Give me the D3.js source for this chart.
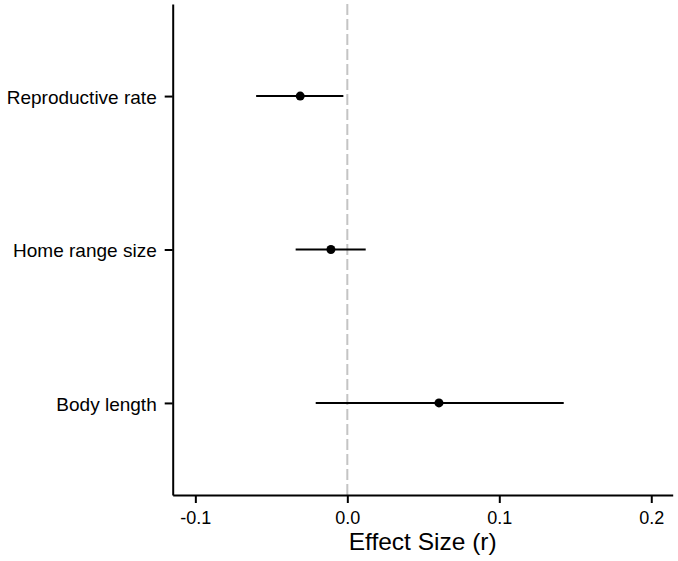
<!DOCTYPE html>
<html><head><meta charset="utf-8">
<script src="https://cdn.jsdelivr.net/npm/d3@7"></script>
<style>body{margin:0;background:#fff}svg{display:block}text{font-family:Arial,"Liberation Sans",sans-serif;fill:#000}</style>
</head><body>
<script>
const categories = ["Reproductive rate", "Home range size", "Body length"];
const estimates = [-0.031, -0.0108, 0.0603];
const lowerCI = [-0.0600, -0.0340, -0.0208];
const upperCI = [-0.0026, 0.0121, 0.1424];
const xTicks = [-0.1, 0.0, 0.1, 0.2];
const xTickLabels = ["-0.1", "0.0", "0.1", "0.2"];
const xTitle = "Effect Size (r)";

const W = 678, H = 561;
const m = {left: 172.7, right: 5.3, top: 4, bottom: 66};
const svg = d3.select("body").append("svg").attr("width", W).attr("height", H);
const x = d3.scaleLinear().domain([-0.1149, 0.2141]).range([m.left, W - m.right]);
const y = d3.scalePoint().domain(categories).range([m.top, H - m.bottom]).padding(0.6);

// zero reference line
svg.append("line").attr("x1", x(0)).attr("x2", x(0))
  .attr("y1", m.top).attr("y2", H - m.bottom)
  .attr("stroke", "#c4c4c4").attr("stroke-width", 2).attr("stroke-dasharray", "11,4");

// x axis
const xa = svg.append("g").attr("transform", `translate(0,${H - m.bottom})`)
  .call(d3.axisBottom(x).tickValues(xTicks).tickFormat((d, i) => xTickLabels[i]).tickSizeInner(8).tickSizeOuter(0).tickPadding(8.7));
xa.select(".domain").attr("stroke", "#000").attr("stroke-width", 2);
xa.selectAll(".tick line").attr("stroke", "#000").attr("stroke-width", 2);
xa.selectAll("text").attr("font-size", 18).attr("font-family", "Arial, 'Liberation Sans', sans-serif");

// y axis
const ya = svg.append("g").attr("transform", `translate(${m.left},0)`)
  .call(d3.axisLeft(y).tickSizeInner(8).tickSizeOuter(0).tickPadding(8));
ya.select(".domain").attr("stroke", "#000").attr("stroke-width", 2);
ya.selectAll(".tick line").attr("stroke", "#000").attr("stroke-width", 2);
ya.selectAll("text").attr("font-size", 19).attr("dy", "0.38em").attr("font-family", "Arial, 'Liberation Sans', sans-serif");

// x title
svg.append("text").attr("x", (m.left + W - m.right) / 2).attr("y", 550)
  .attr("text-anchor", "middle").attr("font-size", 24.5).text(xTitle);

// CIs
svg.selectAll(".ci").data(categories).enter().append("line")
  .attr("x1", (d, i) => x(lowerCI[i])).attr("x2", (d, i) => x(upperCI[i]))
  .attr("y1", d => y(d)).attr("y2", d => y(d))
  .attr("stroke", "#000").attr("stroke-width", 2);
// points
svg.selectAll(".pt").data(categories).enter().append("circle")
  .attr("cx", (d, i) => x(estimates[i])).attr("cy", d => y(d)).attr("r", 4.5).attr("fill", "#000");
</script>
</body></html>
